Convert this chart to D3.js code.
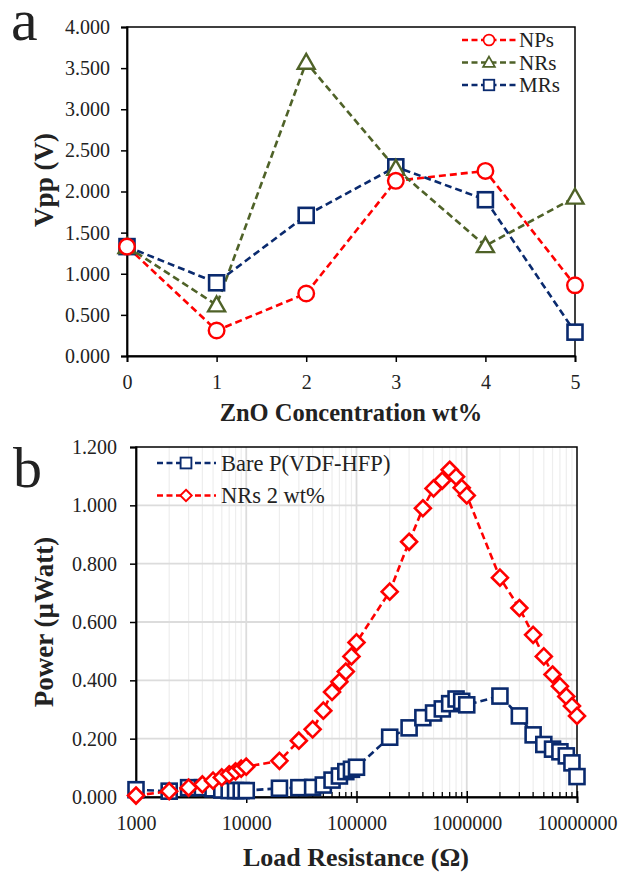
<!DOCTYPE html>
<html>
<head>
<meta charset="utf-8">
<script src="https://cdn.jsdelivr.net/npm/d3@7"></script>
<style>
  html, body { margin: 0; padding: 0; background: #fff; }
  svg { display: block; }
</style>
</head>
<body>
<svg id="chart" width="620" height="872" font-family="Liberation Serif"></svg>
<script>
// ---- Panel a: peak-to-peak voltage vs ZnO loading ----
const concentrations = [0, 1, 2, 3, 4, 5];
const vppNPs = [1.33, 0.31, 0.76, 2.13, 2.25, 0.86];
const vppNRs = [1.33, 0.62, 3.57, 2.28, 1.34, 1.93];
const vppMRs = [1.33, 0.89, 1.71, 2.30, 1.90, 0.29];
const vppTicks = [0, 0.5, 1, 1.5, 2, 2.5, 3, 3.5, 4];

// ---- Panel b: output power vs load resistance ----
const loadResistance = [1000, 2000, 3000, 4000, 5000, 6000, 7000, 8000, 9000,
  10000, 20000, 30000, 40000, 50000, 60000, 70000, 80000, 90000,
  100000, 200000, 300000, 400000, 500000, 600000, 700000, 800000, 900000,
  1000000, 2000000, 3000000, 4000000, 5000000, 6000000, 7000000, 8000000, 9000000,
  10000000];
const powerBare = [0.025, 0.020, 0.032, 0.032, 0.028, 0.024, 0.022, 0.022, 0.022,
  0.022, 0.030, 0.032, 0.033, 0.041, 0.058, 0.072, 0.087, 0.095,
  0.102, 0.205, 0.237, 0.272, 0.288, 0.302, 0.320, 0.336, 0.328,
  0.316, 0.346, 0.278, 0.213, 0.180, 0.164, 0.155, 0.141, 0.117,
  0.070];
const powerNRs = [0.005, 0.020, 0.032, 0.043, 0.056, 0.067, 0.078, 0.088, 0.097,
  0.104, 0.124, 0.193, 0.232, 0.296, 0.360, 0.395, 0.430, 0.482,
  0.530, 0.704, 0.875, 0.990, 1.058, 1.085, 1.122, 1.098, 1.060,
  1.034, 0.752, 0.648, 0.556, 0.482, 0.420, 0.380, 0.345, 0.312,
  0.278];
const powerTicks = [0, 0.2, 0.4, 0.6, 0.8, 1.0, 1.2];
const resistanceTicks = [1000, 10000, 100000, 1000000, 10000000];

const FONT = "Liberation Serif";
const svg = d3.select("#chart");
const fmt3 = d3.format(".3f");

const RED = "#ff0000", OLIVE = "#4f6228", NAVY = "#0a2a6e";
const DASH = "7,4";

// marker shapes
function drawMarker(g, shape, x, y, color) {
  if (shape === "circle") {
    g.append("circle").attr("cx", x).attr("cy", y).attr("r", 7.8)
      .attr("fill", "#fff").attr("stroke", color).attr("stroke-width", 2.4);
  } else if (shape === "square") {
    g.append("rect").attr("x", x - 7.5).attr("y", y - 7.5).attr("width", 15).attr("height", 15)
      .attr("fill", "#fff").attr("stroke", color).attr("stroke-width", 2.6);
  } else if (shape === "triangle") {
    const s = 8.5;
    g.append("path").attr("d", `M${x},${y - s}L${x + s},${y + s * 0.75}L${x - s},${y + s * 0.75}Z`)
      .attr("fill", "#fff").attr("stroke", color).attr("stroke-width", 2.4);
  } else if (shape === "diamond") {
    const s = 8;
    g.append("path").attr("d", `M${x},${y - s}L${x + s},${y}L${x},${y + s}L${x - s},${y}Z`)
      .attr("fill", "#fff").attr("stroke", color).attr("stroke-width", 2.6);
  }
}

function styleAxis(a) {
  a.select(".domain").attr("stroke", "#000").attr("stroke-width", 1.8);
  a.selectAll(".tick line").attr("stroke", "#000").attr("stroke-width", 1.5);
  a.selectAll(".tick text").attr("font-size", 20);
}

// ================= Panel a =================
{
  const L = 127, R = 575, T = 27, B = 356;
  const x = d3.scaleLinear().domain([0, 5]).range([L, R]);
  const y = d3.scaleLinear().domain([0, 4]).range([B, T]);
  const g = svg.append("g");

  g.append("rect").attr("x", L).attr("y", T).attr("width", R - L).attr("height", B - T)
    .attr("fill", "none").attr("stroke", "#000").attr("stroke-width", 1.5);

  const yAxis = g.append("g").attr("transform", `translate(${L},0)`)
    .call(d3.axisLeft(y).tickValues(vppTicks).tickFormat(fmt3).tickSize(6).tickPadding(11));
  const xAxis = g.append("g").attr("transform", `translate(0,${B})`)
    .call(d3.axisBottom(x).tickValues(concentrations).tickFormat(d3.format("d")).tickSize(6).tickPadding(13));
  styleAxis(yAxis);
  styleAxis(xAxis);

  const series = [
    { name: "NPs", values: vppNPs, color: RED, shape: "circle" },
    { name: "NRs", values: vppNRs, color: OLIVE, shape: "triangle" },
    { name: "MRs", values: vppMRs, color: NAVY, shape: "square" }
  ];
  const line = d3.line().x((d, i) => x(concentrations[i])).y(d => y(d));
  series.forEach(s => {
    g.append("path").datum(s.values).attr("d", line).attr("fill", "none")
      .attr("stroke", s.color).attr("stroke-width", 2.6).attr("stroke-dasharray", DASH);
  });
  [series[2], series[1], series[0]].forEach(s => {
    const mg = g.append("g");
    s.values.forEach((v, i) => drawMarker(mg, s.shape, x(concentrations[i]), y(v), s.color));
  });

  series.forEach((s, i) => {
    const ly = 40 + i * 22.5;
    const lg = g.append("g");
    lg.append("line").attr("x1", 462).attr("x2", 516).attr("y1", ly).attr("y2", ly)
      .attr("stroke", s.color).attr("stroke-width", 2.4).attr("stroke-dasharray", "6,3.5");
    const mg = lg.append("g").attr("transform", `translate(489,${ly}) scale(0.7) translate(-489,${-ly})`);
    drawMarker(mg, s.shape, 489, ly, s.color);
    lg.append("text").attr("x", 519).attr("y", ly + 7).attr("font-size", 21).text(s.name);
  });

  svg.append("text").attr("transform", `translate(53,${180}) rotate(-90)`)
    .attr("text-anchor", "middle").attr("font-size", 27).attr("font-weight", "bold").text("Vpp (V)");
  svg.append("text").attr("x", 351).attr("y", 421).attr("text-anchor", "middle")
    .attr("font-size", 24.5).attr("font-weight", "bold").text("ZnO Concentration  wt%");
  svg.append("text").attr("x", 11).attr("y", 40).attr("font-size", 60).text("a");
}

// ================= Panel b =================
{
  const L = 136, R = 577, T = 447, B = 797;
  const x = d3.scaleLog().domain([1000, 10000000]).range([L, R]);
  const y = d3.scaleLinear().domain([0, 1.2]).range([B, T]);
  const g = svg.append("g");

  // minor vertical grid (2..9 within each decade)
  const minor = [];
  for (let e = 3; e < 7; e++) for (let k = 2; k <= 9; k++) minor.push(k * Math.pow(10, e));
  g.append("g").selectAll("line").data(minor).join("line")
    .attr("x1", d => x(d)).attr("x2", d => x(d)).attr("y1", T).attr("y2", B)
    .attr("stroke", "#eeeeee").attr("stroke-width", 1.2);
  g.append("g").selectAll("line").data(resistanceTicks.slice(1, -1)).join("line")
    .attr("x1", d => x(d)).attr("x2", d => x(d)).attr("y1", T).attr("y2", B)
    .attr("stroke", "#dcdcdc").attr("stroke-width", 1.8);
  g.append("g").selectAll("line").data(powerTicks.slice(1, -1)).join("line")
    .attr("x1", L).attr("x2", R).attr("y1", d => y(d)).attr("y2", d => y(d))
    .attr("stroke", "#dcdcdc").attr("stroke-width", 1.8);

  g.append("rect").attr("x", L).attr("y", T).attr("width", R - L).attr("height", B - T)
    .attr("fill", "none").attr("stroke", "#000").attr("stroke-width", 1.5);

  const yAxis = g.append("g").attr("transform", `translate(${L},0)`)
    .call(d3.axisLeft(y).tickValues(powerTicks).tickFormat(fmt3).tickSize(6).tickPadding(13));
  const xAxis = g.append("g").attr("transform", `translate(0,${B})`)
    .call(d3.axisBottom(x).tickValues(resistanceTicks).tickFormat(d3.format("d")).tickSize(6).tickPadding(13));
  // minor ticks pointing into the plot
  xAxis.append("g").selectAll("line").data(minor).join("line")
    .attr("x1", d => x(d)).attr("x2", d => x(d)).attr("y1", 0).attr("y2", -5)
    .attr("stroke", "#000").attr("stroke-width", 1.3);
  xAxis.selectAll(".tick line").attr("y1", -6);
  styleAxis(yAxis);
  styleAxis(xAxis);

  const series = [
    { name: "Bare P(VDF-HFP)", values: powerBare, color: NAVY, shape: "square" },
    { name: "NRs 2 wt%", values: powerNRs, color: RED, shape: "diamond" }
  ];
  const line = d3.line().x((d, i) => x(loadResistance[i])).y(d => y(d));
  series.forEach(s => {
    g.append("path").datum(s.values).attr("d", line).attr("fill", "none")
      .attr("stroke", s.color).attr("stroke-width", 2.6).attr("stroke-dasharray", DASH);
    const mg = g.append("g");
    s.values.forEach((v, i) => drawMarker(mg, s.shape, x(loadResistance[i]), y(v), s.color));
  });

  series.forEach((s, i) => {
    const ly = 463 + i * 32.5;
    const lg = g.append("g");
    lg.append("line").attr("x1", 157).attr("x2", 216).attr("y1", ly).attr("y2", ly)
      .attr("stroke", s.color).attr("stroke-width", 2.4).attr("stroke-dasharray", "6,3.5");
    const mg = lg.append("g").attr("transform", `translate(186,${ly}) scale(0.72) translate(-186,${-ly})`);
    drawMarker(mg, s.shape, 186, ly, s.color);
    lg.append("text").attr("x", 221).attr("y", ly + 7.5).attr("font-size", 22.5).text(s.name);
  });

  svg.append("text").attr("transform", `translate(53,622) rotate(-90)`)
    .attr("text-anchor", "middle").attr("font-size", 27).attr("font-weight", "bold").text("Power (µWatt)");
  svg.append("text").attr("x", 356).attr("y", 866).attr("text-anchor", "middle")
    .attr("font-size", 26).attr("font-weight", "bold").text("Load Resistance (Ω)");
  svg.append("text").attr("x", 13).attr("y", 487).attr("font-size", 58).text("b");
}

// every label in the figure uses the serif face
svg.selectAll("text").attr("font-family", FONT).attr("fill", "#222");
</script>
</body>
</html>
